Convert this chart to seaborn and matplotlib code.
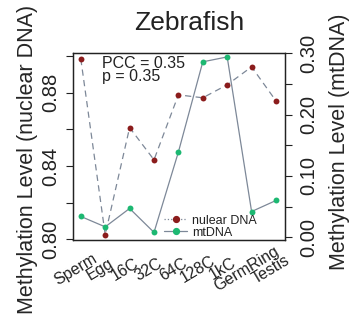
import matplotlib
matplotlib.use("Agg")
import matplotlib.pyplot as plt
import matplotlib.transforms as mtransforms
from matplotlib.lines import Line2D
import seaborn as sns
import numpy as np

stages = ["Sperm", "Egg", "16C", "32C", "64C", "128C", "1kC", "GermRing", "Testis"]
nuclear = [0.8985, 0.8025, 0.861, 0.8434, 0.8789, 0.8773, 0.8844, 0.8942, 0.8756]
mtdna = [0.034, 0.017, 0.047, 0.008, 0.139, 0.286, 0.294, 0.042, 0.060]
left_ticks = [0.80, 0.84, 0.88]
right_ticks = [0.00, 0.10, 0.20, 0.30]

red = "#8B1C1C"
green = "#1DB872"
line_col = "#7D8898"

sns.set_style("ticks")
plt.rcParams["font.family"] = ["Liberation Sans", "DejaVu Sans"]
plt.rcParams["text.color"] = "#222222"
plt.rcParams["xtick.color"] = "#222222"
plt.rcParams["ytick.color"] = "#222222"

fig = plt.figure(figsize=(3.51, 3.2), dpi=100)
ax = fig.add_axes([0.208, 0.25, 0.604, 0.584])
ax2 = ax.twinx()

x = np.arange(len(stages))

# nuclear DNA on left axis
sns.lineplot(x=x, y=nuclear, ax=ax, color=line_col, linewidth=0.9,
             linestyle=(0, (5, 3.5)), zorder=2)
sns.scatterplot(x=x, y=nuclear, ax=ax, color=red, s=18, edgecolor=red,
                linewidth=0, zorder=3)

# mtDNA on right axis
sns.lineplot(x=x, y=mtdna, ax=ax2, color=line_col, linewidth=0.9, zorder=2)
sns.scatterplot(x=x, y=mtdna, ax=ax2, color=green, s=18, edgecolor=green,
                linewidth=0, zorder=3)

ax.set_xlim(-0.32, 8.37)
ax.set_ylim(0.7996, 0.9017)
ax2.set_ylim(-0.0044, 0.3002)

lt = np.arange(0.80, 0.901, 0.02)
ax.set_yticks(lt)
ax.set_yticklabels([f"{v:.2f}" if round(v, 2) in left_ticks else "" for v in lt],
                   rotation=90, va="center", fontsize=14.5)
rt = np.arange(0.0, 0.301, 0.05)
ax2.set_yticks(rt)
ax2.set_yticklabels([f"{v:.2f}" if round(v, 2) in right_ticks else "" for v in rt],
                    rotation=90, va="center", fontsize=14.5)

ax.set_xticks(x)
ax.set_xticklabels(stages, rotation=31, ha="center", va="center",
                   rotation_mode="anchor", fontsize=11.5)
ax.tick_params(axis="x", length=0, pad=21)
shift = mtransforms.ScaledTranslation(-5 / 100, 0, fig.dpi_scale_trans)
for lab in ax.get_xticklabels():
    lab.set_transform(lab.get_transform() + shift)

ax.tick_params(axis="y", direction="out", length=5, width=0.8, pad=4)
ax2.tick_params(axis="y", direction="out", length=5, width=0.8, pad=5)

for a in (ax, ax2):
    for s in a.spines.values():
        s.set_visible(True)
        s.set_linewidth(0.9)
        s.set_color("#222222")

ax.set_ylabel("Methylation Level (nuclear DNA)", fontsize=15.5, va="center")
ax.yaxis.set_label_coords(-0.217, 0.433)
ax2.set_ylabel("Methylation Level (mtDNA)", fontsize=15.5, rotation=90, va="center")
ax2.yaxis.set_label_coords(1.255, 0.524)

ax.set_title("Zebrafish", fontsize=19, x=0.547, pad=17)

ax.text(0.135, 0.985, "PCC = 0.35\np = 0.35", transform=ax.transAxes,
        ha="left", va="top", fontsize=11.5, linespacing=0.85)

handles = [
    Line2D([], [], color=line_col, linestyle=":", linewidth=0.9,
           marker="o", markersize=4.2, markerfacecolor=red, markeredgecolor=red),
    Line2D([], [], color=line_col, linestyle="-", linewidth=0.9,
           marker="o", markersize=4.2, markerfacecolor=green, markeredgecolor=green),
]
ax2.legend(handles, ["nulear DNA", "mtDNA"], loc="lower left",
           bbox_to_anchor=(0.425, 0.0), frameon=False, fontsize=9,
           borderpad=0.1, handlelength=1.8, handletextpad=0.4,
           labelspacing=0.0, borderaxespad=0)

fig.savefig("out.png", dpi=100)
